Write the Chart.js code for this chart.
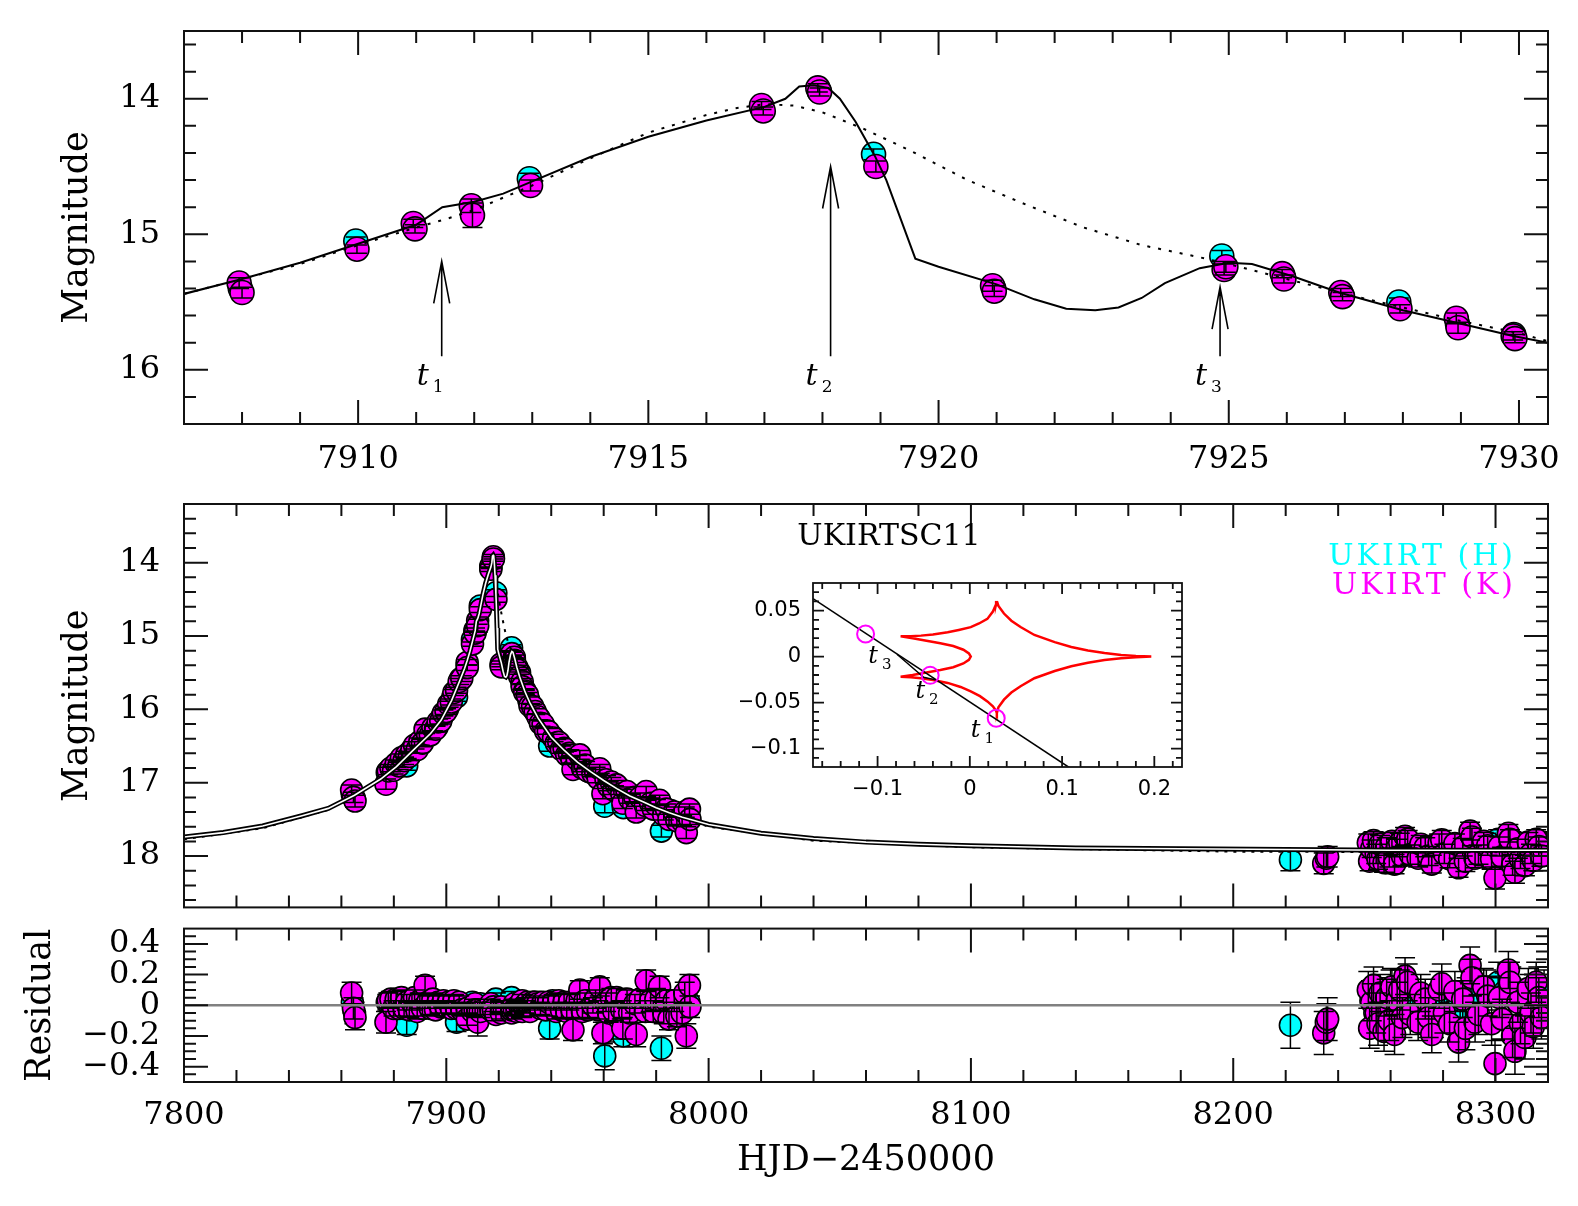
<!DOCTYPE html>
<html><head><meta charset="utf-8">
<script src="https://cdn.jsdelivr.net/npm/chart.js@4.4.1/dist/chart.umd.min.js"></script>
<style>
html,body{margin:0;padding:0;background:#fff;}
#wrap{position:relative;width:1578px;height:1206px;overflow:hidden;background:#fff;}
canvas{position:absolute;}
</style></head><body>
<div id="wrap">
<canvas id="cTop" width="1578" height="480" style="left:0;top:0"></canvas>
<canvas id="cMid" width="1578" height="440" style="left:0;top:480px"></canvas>
<canvas id="cRes" width="1578" height="290" style="left:0;top:916px"></canvas>
<canvas id="cIns" width="460" height="240" style="left:740px;top:560px"></canvas>
</div>
<script>
// ================= DATA =================
// UKIRT H band (cyan)
const hTime = [
7864.2, 7865.0,
7877.5, 7879.5, 7881.5, 7883.5, 7884.9, 7886.5, 7888.5, 7890.5, 7892.5, 7894.5, 7896.5, 7898.5, 7900.5, 7902.5, 7903.9, 7905.5,
7907.97, 7909.96, 7910.96, 7912.95, 7916.96, 7917.94, 7918.88, 7920.95, 7924.88, 7925.94, 7926.95, 7927.93, 7928.94, 7929.91,
7931.5, 7933.5, 7935.5, 7937.5, 7939.4, 7940.5, 7942.5, 7944.5, 7946.5, 7948.5,
7950.5, 7952.5, 7954.5, 7956.5, 7958.5, 7960.4, 7962.5, 7964.5, 7966.5, 7967.5,
7969.5, 7971.5, 7973.5, 7975.5, 7977.5, 7979.5, 7982.0, 7983.5, 7985.5, 7987.5,
7989.5, 7992.5,
8221.8,
8252.5, 8254.0, 8256.5, 8258.0, 8260.0, 8262.0, 8264.0, 8268.5, 8272.5, 8276.5,
8281.5, 8283.5, 8286.5, 8289.0, 8294.1, 8296.5, 8301.0, 8303.5, 8306.0, 8310.0,
8313.0, 8316.3, 8318.5];
const hMag = [
17.16, 17.22,
16.86, 16.83, 16.79, 16.68, 16.77, 16.60, 16.50, 16.47, 16.36, 16.30, 16.24, 16.09, 15.99, 15.83, 15.83, 15.58,
15.40, 15.05, 14.94, 14.59, 14.07, 13.94, 14.41, 15.40, 15.16, 15.31, 15.45, 15.50, 15.66, 15.74,
15.88, 16.01, 16.13, 16.25, 16.50, 16.37, 16.47, 16.52, 16.63, 16.65,
16.74, 16.76, 16.85, 16.86, 16.94, 17.32, 17.00, 17.08, 17.09, 17.34,
17.18, 17.18, 17.25, 17.24, 17.32, 17.31, 17.66, 17.41, 17.38, 17.47,
17.45, 17.47,
18.05,
17.89, 17.97, 17.86, 17.94, 17.82, 18.00, 17.88, 17.91, 17.95, 17.99,
17.91, 17.96, 18.02, 17.87, 17.85, 17.82, 17.77, 17.83, 17.80, 17.88,
17.84, 17.80, 17.82];
const hErr = [
0.07, 0.07,
0.05, 0.05, 0.05, 0.05, 0.06, 0.05, 0.05, 0.05, 0.04, 0.04, 0.04, 0.04, 0.04, 0.04, 0.06, 0.04,
0.04, 0.03, 0.03, 0.04, 0.03, 0.03, 0.04, 0.04, 0.04, 0.03, 0.03, 0.03, 0.04, 0.03,
0.03, 0.04, 0.04, 0.04, 0.07, 0.05, 0.05, 0.05, 0.05, 0.05,
0.05, 0.05, 0.05, 0.06, 0.06, 0.09, 0.06, 0.06, 0.06, 0.07,
0.06, 0.06, 0.07, 0.07, 0.07, 0.07, 0.08, 0.07, 0.07, 0.07,
0.07, 0.07,
0.15,
0.13, 0.13, 0.12, 0.13, 0.13, 0.14, 0.12, 0.13, 0.13, 0.14,
0.12, 0.13, 0.14, 0.13, 0.12, 0.13, 0.13, 0.12, 0.13, 0.13,
0.12, 0.13, 0.13];
const hRes = [
0.02, -0.05,
0.02, -0.01, -0.03, 0.01, -0.13, -0.01, 0.02, -0.02, 0.02, 0.01, -0.02, 0.02, 0.00, 0.01, -0.11, 0.01,
-0.05, 0.02, -0.01, 0.01, 0.01, -0.01, 0.04, -0.02, 0.05, -0.01, -0.02, 0.02, -0.03, -0.01,
-0.01, 0.02, 0.02, 0.01, -0.15, 0.03, 0.00, 0.02, -0.02, 0.02,
-0.01, 0.02, -0.02, 0.02, -0.02, -0.33, 0.02, -0.01, 0.02, -0.20,
-0.01, 0.02, -0.02, 0.03, -0.02, 0.02, -0.28, -0.02, 0.03, -0.03,
0.02, 0.02,
-0.13,
0.03, -0.05, 0.06, -0.02, 0.10, -0.08, 0.04, 0.01, -0.03, -0.07,
0.01, -0.04, -0.10, 0.05, 0.07, 0.10, 0.15, 0.09, 0.12, 0.04,
0.08, 0.12, 0.10];

// UKIRT K band (magenta)
const kTime = [
7863.9, 7864.6, 7865.2,
7877.0, 7877.9, 7878.9, 7879.9, 7880.9, 7881.9, 7882.9, 7883.9, 7884.9, 7885.9,
7886.9, 7887.9, 7888.9, 7889.9, 7890.9, 7891.9, 7892.9, 7893.9, 7894.9, 7895.9,
7896.9, 7897.9, 7898.9, 7899.9, 7900.9, 7901.9, 7902.9, 7903.9, 7904.9, 7905.9,
7907.95, 7908.0, 7909.98, 7910.95, 7910.98, 7911.95, 7911.97, 7912.97, 7916.95, 7916.98,
7917.92, 7917.95, 7918.92, 7920.93, 7920.96, 7924.92, 7924.95, 7925.92, 7925.95, 7926.93,
7926.96, 7927.95, 7928.92, 7928.95, 7929.9, 7929.93,
7930.9, 7931.9, 7932.9, 7933.9, 7934.9, 7935.9, 7936.9, 7937.9, 7938.9, 7940.9,
7941.9, 7942.9, 7943.9, 7944.9, 7945.9, 7946.9, 7947.9, 7948.3, 7949.9, 7950.9,
7951.9, 7952.9, 7953.9, 7955.9, 7956.9, 7957.9, 7958.5, 7959.7, 7960.9, 7961.9,
7962.9, 7963.9, 7964.9, 7966.9, 7967.3, 7968.9, 7969.9, 7971.9, 7972.4, 7973.9,
7975.9, 7976.2, 7977.9, 7978.9, 7979.9, 7981.3, 7982.9, 7983.9, 7984.9, 7986.9,
7987.9, 7989.9, 7990.9, 7991.5, 7992.7, 7992.9,
8234.5, 8235.5, 8236.0,
8251.5, 8252.0, 8252.8, 8253.5, 8254.5, 8255.2, 8256.0, 8257.5, 8258.5, 8259.5,
8260.5, 8261.5, 8262.5, 8263.5, 8264.5, 8265.5, 8266.5, 8267.5, 8270.5, 8271.5,
8273.2, 8274.5, 8275.7, 8278.5, 8279.5, 8280.5, 8282.5, 8284.5, 8285.9, 8287.5,
8288.5, 8290.3, 8291.0, 8292.2, 8293.5, 8295.5, 8297.0, 8298.5, 8299.8, 8301.5,
8302.5, 8304.9, 8305.5, 8306.5, 8307.4, 8308.5, 8309.5, 8311.2, 8312.5, 8313.5,
8314.4, 8315.5, 8316.5, 8317.5];
const kMag = [
17.10, 17.20, 17.25,
17.02, 16.84, 16.80, 16.83, 16.74, 16.77, 16.66, 16.70, 16.62, 16.64,
16.55, 16.49, 16.55, 16.44, 16.46, 16.27, 16.35, 16.35, 16.25, 16.27,
16.17, 16.16, 16.05, 16.03, 15.93, 15.90, 15.77, 15.74, 15.62, 15.58,
15.36, 15.43, 15.11, 14.92, 14.96, 14.79, 14.86, 14.64, 14.05, 14.09,
13.92, 13.95, 14.50, 15.38, 15.42, 15.26, 15.24, 15.29, 15.33, 15.43,
15.46, 15.55, 15.62, 15.69, 15.75, 15.77,
15.80, 15.95, 15.96, 16.03, 16.10, 16.19, 16.20, 16.30, 16.30, 16.39,
16.46, 16.45, 16.55, 16.53, 16.62, 16.60, 16.68, 16.82, 16.68, 16.62,
16.80, 16.76, 16.84, 16.87, 16.85, 16.94, 16.81, 17.15, 16.96, 17.05,
16.99, 17.10, 17.03, 17.15, 17.28, 17.12, 17.22, 17.20, 17.40, 17.20,
17.31, 17.12, 17.28, 17.36, 17.30, 17.24, 17.44, 17.36, 17.50, 17.40,
17.52, 17.52, 17.40, 17.68, 17.36, 17.50,
18.10, 18.03, 18.01,
17.82, 18.07, 17.90, 17.79, 17.97, 18.04, 17.84, 18.09, 17.87, 18.02,
17.80, 18.11, 17.89, 17.82, 18.00, 17.73, 17.77, 17.98, 18.03, 17.84,
17.88, 18.00, 18.11, 17.82, 17.78, 17.97, 18.04, 17.83, 18.16, 17.88,
18.07, 17.66, 17.74, 18.03, 17.98, 17.80, 17.86, 18.04, 18.30, 17.87,
18.01, 17.69, 17.77, 18.12, 18.22, 17.90, 18.04, 18.13, 17.81, 17.97,
18.06, 17.77, 17.87, 18.00];
const kErr = [
0.07, 0.07, 0.08,
0.07, 0.05, 0.05, 0.05, 0.05, 0.05, 0.05, 0.05, 0.05, 0.05,
0.05, 0.05, 0.05, 0.05, 0.05, 0.06, 0.04, 0.04, 0.04, 0.04,
0.04, 0.04, 0.04, 0.04, 0.04, 0.04, 0.04, 0.04, 0.04, 0.04,
0.04, 0.04, 0.03, 0.03, 0.03, 0.05, 0.09, 0.04, 0.03, 0.03,
0.03, 0.03, 0.04, 0.04, 0.04, 0.04, 0.04, 0.03, 0.03, 0.03,
0.03, 0.03, 0.04, 0.04, 0.03, 0.03,
0.03, 0.03, 0.03, 0.04, 0.04, 0.04, 0.04, 0.04, 0.04, 0.05,
0.05, 0.05, 0.05, 0.05, 0.05, 0.05, 0.05, 0.07, 0.05, 0.06,
0.05, 0.05, 0.05, 0.05, 0.06, 0.06, 0.06, 0.07, 0.06, 0.06,
0.06, 0.06, 0.06, 0.06, 0.07, 0.06, 0.06, 0.06, 0.08, 0.06,
0.07, 0.07, 0.07, 0.07, 0.07, 0.07, 0.07, 0.07, 0.07, 0.07,
0.07, 0.07, 0.07, 0.08, 0.07, 0.07,
0.14, 0.12, 0.14,
0.12, 0.13, 0.12, 0.12, 0.13, 0.14, 0.12, 0.13, 0.12, 0.13,
0.12, 0.13, 0.12, 0.13, 0.13, 0.12, 0.12, 0.13, 0.12, 0.12,
0.13, 0.13, 0.12, 0.12, 0.13, 0.13, 0.12, 0.13, 0.13, 0.12,
0.14, 0.12, 0.12, 0.13, 0.13, 0.12, 0.13, 0.14, 0.15, 0.13,
0.13, 0.12, 0.13, 0.14, 0.15, 0.13, 0.13, 0.14, 0.13, 0.13,
0.14, 0.13, 0.13, 0.14];
const kRes = [
0.08, -0.02, -0.08,
-0.11, 0.03, 0.04, -0.02, 0.04, -0.02, 0.05, -0.02, 0.02, -0.03,
0.02, 0.05, -0.04, 0.03, -0.02, 0.13, 0.02, -0.02, 0.04, -0.03,
0.02, -0.01, 0.03, -0.01, 0.02, -0.02, 0.03, -0.02, 0.02, -0.03,
-0.02, -0.09, -0.04, 0.01, -0.03, -0.03, -0.11, -0.04, 0.01, -0.03,
-0.01, -0.03, -0.06, -0.01, -0.05, -0.05, -0.03, 0.01, -0.03, -0.01,
-0.04, 0.00, 0.03, -0.04, 0.00, -0.02,
0.02, -0.04, 0.02, 0.02, 0.01, -0.02, 0.02, -0.03, 0.02, 0.02,
-0.04, 0.03, -0.03, 0.02, -0.04, 0.02, -0.03, -0.16, 0.03, 0.10,
-0.04, 0.03, -0.03, 0.00, 0.04, -0.03, 0.12, -0.18, 0.02, -0.05,
0.05, -0.04, 0.05, -0.03, -0.15, 0.04, -0.05, 0.01, -0.19, 0.04,
-0.04, 0.16, 0.03, -0.04, 0.04, 0.12, -0.05, 0.03, -0.09, 0.03,
-0.07, -0.05, 0.08, -0.20, 0.13, -0.01,
-0.18, -0.11, -0.09,
0.10, -0.15, 0.02, 0.13, -0.05, -0.12, 0.08, -0.17, 0.05, -0.10,
0.12, -0.19, 0.03, 0.10, -0.08, 0.19, 0.15, -0.06, -0.11, 0.08,
0.04, -0.08, -0.19, 0.10, 0.14, -0.05, -0.12, 0.09, -0.24, 0.04,
-0.15, 0.26, 0.18, -0.11, -0.06, 0.12, 0.06, -0.12, -0.38, 0.05,
-0.09, 0.23, 0.15, -0.20, -0.30, 0.02, -0.12, -0.21, 0.11, -0.05,
-0.14, 0.15, 0.05, -0.08];

// best-fit binary-lens model (solid)
const modelTime = [7800, 7815, 7830, 7845, 7855, 7865, 7875, 7881, 7887, 7894, 7898, 7902, 7905, 7907, 7908, 7909, 7910, 7911, 7911.45, 7912, 7912.5, 7913, 7914, 7915, 7916, 7917, 7917.36, 7917.6, 7917.85, 7918.1, 7918.3, 7918.57, 7918.9, 7919.1, 7919.35, 7919.6, 7920, 7921, 7921.65, 7922.2, 7922.7, 7923.1, 7923.5, 7923.9, 7924.5, 7925, 7925.4, 7926.1, 7926.9, 7928, 7929, 7929.9, 7930.5, 7932, 7935, 7940, 7945, 7950, 7955, 7960, 7965, 7970, 7975, 7980, 7985, 7990, 8000, 8020, 8040, 8060, 8080, 8100, 8140, 8180, 8220, 8260, 8320];
const modelMag = [17.74, 17.68, 17.59, 17.45, 17.35, 17.17, 16.95, 16.78, 16.57, 16.33, 16.15, 15.88, 15.62, 15.44, 15.33, 15.21, 15.07, 14.93, 14.80, 14.76, 14.70, 14.61, 14.43, 14.28, 14.16, 14.06, 14.00, 13.91, 13.90, 13.92, 14.00, 14.17, 14.42, 14.60, 14.89, 15.18, 15.24, 15.37, 15.48, 15.55, 15.56, 15.54, 15.47, 15.36, 15.25, 15.21, 15.22, 15.31, 15.43, 15.56, 15.66, 15.75, 15.80, 15.92, 16.12, 16.38, 16.56, 16.72, 16.85, 16.97, 17.08, 17.18, 17.26, 17.34, 17.41, 17.47, 17.57, 17.69, 17.76, 17.81, 17.84, 17.86, 17.89, 17.90, 17.91, 17.92, 17.92];
// alternative model (dotted)
const altTime = [7800, 7830, 7855, 7875, 7894, 7902, 7907, 7909, 7910, 7911, 7911.5, 7912, 7913, 7914, 7915, 7916, 7916.5, 7917, 7917.5, 7918, 7918.7, 7919.5, 7920.5, 7921.5, 7922.5, 7923.5, 7924.5, 7925, 7926, 7927, 7928, 7929, 7930, 7930.5, 7935, 7950, 7980, 8000, 8040, 8100, 8200, 8320];
const altMag = [17.77, 17.62, 17.37, 16.97, 16.34, 15.89, 15.44, 15.22, 15.08, 14.95, 14.89, 14.82, 14.64, 14.44, 14.25, 14.12, 14.07, 14.04, 14.05, 14.10, 14.22, 14.38, 14.60, 14.78, 14.95, 15.08, 15.17, 15.22, 15.33, 15.44, 15.54, 15.64, 15.73, 15.79, 16.14, 16.74, 17.37, 17.60, 17.79, 17.88, 17.94, 17.95];

// caustic-crossing epochs marked in the top panel
const arrowTime = [7911.44, 7918.14, 7924.85];
const arrowTip  = [15.20, 14.50, 15.39];
const arrowBase = [15.90, 15.90, 15.90];
const arrowSub  = ['1', '2', '3'];

// inset: caustic and source trajectory
const causticX = [0.0293, 0.0285, 0.025, 0.019, 0.010, 0.001, -0.012, -0.024, -0.040, -0.053, -0.064, -0.075,
  -0.062, -0.047, -0.032, -0.018, -0.007, -0.001, 0.001, -0.001, -0.007, -0.018, -0.032, -0.047, -0.062, -0.075,
  -0.064, -0.053, -0.040, -0.024, -0.010, 0.001, 0.011, 0.019, 0.025, 0.0285, 0.0293,
  0.031, 0.037, 0.045, 0.055, 0.070, 0.092, 0.110, 0.128, 0.146, 0.164, 0.180, 0.1967,
  0.180, 0.164, 0.146, 0.128, 0.110, 0.092, 0.070, 0.055, 0.045, 0.037, 0.031, 0.0293];
const causticY = [0.0604, 0.057, 0.049, 0.041, 0.036, 0.032, 0.029, 0.0264, 0.024, 0.0228, 0.0222, 0.022,
  0.020, 0.0173, 0.0145, 0.0115, 0.0075, 0.0035, 0.000, -0.0035, -0.0075, -0.0115, -0.0145, -0.0173, -0.020, -0.022,
  -0.0225, -0.0235, -0.0255, -0.0286, -0.033, -0.0377, -0.043, -0.0487, -0.054, -0.059, -0.0615,
  -0.055, -0.0468, -0.039, -0.0322, -0.0235, -0.0157, -0.0105, -0.0066, -0.0038, -0.0018, -0.0006, 0.000,
  0.0006, 0.0018, 0.0038, 0.0066, 0.0105, 0.0157, 0.0235, 0.0322, 0.039, 0.0468, 0.055, 0.0604];
const trajX = [-0.17, 0.11];
const trajY = [0.063, -0.122];
const traj2X = [-0.079, -0.050, -0.036];
const traj2Y = [0.0025, -0.0225, -0.0256];
const markX = [0.0286, -0.043, -0.113];
const markY = [-0.067, -0.0204, 0.0246];
const markLabelX = [0.001, -0.059, -0.110];
const markLabelY = [-0.087, -0.045, -0.007];
const markSub = ['1', '2', '3'];

// axis ticks (labelled majors)
const topXTicks = [7910, 7915, 7920, 7925, 7930];
const topYTicks = [14, 15, 16];
const midYTicks = [14, 15, 16, 17, 18];
const resXTicks = [7800, 7900, 8000, 8100, 8200, 8300];
const resYTicks = [0.4, 0.2, 0, -0.2, -0.4];
const insXTicks = [-0.1, 0, 0.1, 0.2];
const insYTicks = [0.05, 0, -0.05, -0.1];

// ================= DRAWING =================
const CYAN = '#00ffff', MAGENTA = '#ff00ff';
const SERIF = '"DejaVu Serif", "Liberation Serif", serif';
const SANS = '"DejaVu Sans", "Liberation Sans", sans-serif';
Chart.defaults.font.family = SERIF;
Chart.defaults.color = '#000';

const pts = (t, v) => t.map((x, i) => ({x: x, y: v[i]}));
function stepsBetween(min, max, step) {
  const out = [];
  const k0 = Math.ceil(min / step - 1e-6), k1 = Math.floor(max / step + 1e-6);
  for (let k = k0; k <= k1; k++) out.push(+(k * step).toFixed(6));
  return out;
}
function fmt(v) { return String(+(+v).toFixed(6)).replace('-', '\u2212'); }
function noPad(sc) { sc.paddingTop = 0; sc.paddingBottom = 0; sc.paddingLeft = 0; sc.paddingRight = 0; }

function frame(c) {
  return { id: 'frame', afterDatasetsDraw(chart) {
    const {ctx, chartArea: a} = chart; const x = chart.scales.x, y = chart.scales.y;
    const isMaj = (v, list, st) => list.some(m => Math.abs(m - v) < st * 1e-3);
    ctx.save(); ctx.strokeStyle = '#111'; ctx.lineWidth = c.lw; ctx.beginPath();
    stepsBetween(x.min, x.max, c.xMinor).forEach(v => {
      const p = x.getPixelForValue(v); if (p <= a.left + 1 || p >= a.right - 1) return;
      const L = isMaj(v, c.xMajor, c.xMinor) ? c.maj : c.min;
      ctx.moveTo(p, a.bottom); ctx.lineTo(p, a.bottom - L);
      ctx.moveTo(p, a.top); ctx.lineTo(p, a.top + L);
    });
    stepsBetween(y.min, y.max, c.yMinor).forEach(v => {
      const p = y.getPixelForValue(v); if (p <= a.top + 1 || p >= a.bottom - 1) return;
      const L = isMaj(v, c.yMajor, c.yMinor) ? c.maj : c.min;
      ctx.moveTo(a.left, p); ctx.lineTo(a.left + L, p);
      ctx.moveTo(a.right, p); ctx.lineTo(a.right - L, p);
    });
    ctx.stroke();
    ctx.strokeRect(a.left, a.top, a.right - a.left, a.bottom - a.top);
    ctx.restore();
  }};
}
const errBars = { id: 'errBars', afterDatasetDraw(chart, args) {
  const ds = chart.data.datasets[args.index]; if (!ds.errors) return;
  const {ctx, chartArea: a} = chart; const x = chart.scales.x, y = chart.scales.y;
  ctx.save(); ctx.beginPath(); ctx.rect(a.left, a.top, a.right - a.left, a.bottom - a.top); ctx.clip();
  ctx.strokeStyle = '#000'; ctx.lineWidth = 1.5; ctx.beginPath();
  const c = ds.cap || 10;
  ds.data.forEach((p, i) => {
    const e = ds.errors[i]; const px = x.getPixelForValue(p.x);
    const y1 = y.getPixelForValue(p.y - e), y2 = y.getPixelForValue(p.y + e);
    ctx.moveTo(px, y1); ctx.lineTo(px, y2);
    ctx.moveTo(px - c, y1); ctx.lineTo(px + c, y1);
    ctx.moveTo(px - c, y2); ctx.lineTo(px + c, y2);
  });
  ctx.stroke(); ctx.restore();
}};
function tLabel(ctx, x, y, sub, big, small) {
  ctx.fillStyle = '#000'; ctx.textAlign = 'left'; ctx.textBaseline = 'alphabetic';
  ctx.font = 'italic ' + big + 'px ' + SERIF; ctx.fillText('t', x, y);
  const w = ctx.measureText('t').width;
  ctx.font = small + 'px ' + SERIF; ctx.fillText(sub, x + w + 4, y + Math.round(small * 0.4));
}
function axisX(o) {
  const s = { type: 'linear', min: o.min, max: o.max,
    grid: { display: false, drawTicks: false }, border: { display: false },
    afterBuildTicks: sc => { sc.ticks = o.ticks.map(v => ({ value: v })); },
    ticks: { display: o.labels, autoSkip: false, maxRotation: 0, minRotation: 0, padding: o.pad || 0,
      font: { family: o.family || SERIF, size: o.size || 32 }, color: '#000', callback: v => fmt(v) },
    afterFit: sc => { sc.height = o.h; noPad(sc); } };
  if (o.title) s.title = { display: true, text: o.title, color: '#000', font: { family: SERIF, size: 35 }, padding: { top: 0, bottom: o.titlePad } };
  return s;
}
function axisY(o) {
  const s = { type: 'linear', min: o.min, max: o.max, reverse: !!o.reverse,
    grid: { display: false, drawTicks: false }, border: { display: false },
    afterBuildTicks: sc => { sc.ticks = o.ticks.map(v => ({ value: v })); },
    ticks: { autoSkip: false, padding: o.pad, font: { family: o.family || SERIF, size: o.size || 32 }, color: '#000', callback: v => fmt(v) },
    afterFit: sc => { sc.width = o.w; noPad(sc); } };
  if (o.title) s.title = { display: true, text: o.title, color: '#000', font: { family: SERIF, size: 35 }, padding: { top: o.titlePad, bottom: 0 } };
  return s;
}
const baseOpts = (scales, pad) => ({
  responsive: false, maintainAspectRatio: false, animation: false, devicePixelRatio: 1, events: [],
  layout: { padding: pad },
  plugins: { legend: { display: false }, tooltip: { enabled: false }, title: { display: false } },
  scales: scales
});
const pointSet = (t, v, e, color, r, order) => ({ data: pts(t, v), errors: e, showLine: false,
  pointRadius: r, pointBackgroundColor: color, pointBorderColor: '#000', pointBorderWidth: 1.6, order: order, clip: 0, cap: 10 });
const lineSet = (t, v, color, w, dash, order) => ({ data: pts(t, v), showLine: true, pointRadius: 0,
  borderColor: color, borderWidth: w, borderDash: dash || [], order: order, clip: 0, fill: false, tension: 0 });

// ---------- top panel ----------
new Chart(document.getElementById('cTop'), {
  type: 'scatter',
  data: { datasets: [
    lineSet(modelTime, modelMag, '#000', 2, null, 0),
    lineSet(altTime, altMag, '#000', 2, [3, 8], 1),
    pointSet(kTime, kMag, kErr, MAGENTA, 12, 2),
    pointSet(hTime, hMag, hErr, CYAN, 12, 3)
  ]},
  options: baseOpts({
    x: axisX({ min: 7907, max: 7930.5, ticks: topXTicks, labels: true, pad: 16, h: 56 }),
    y: axisY({ min: 13.5, max: 16.4, reverse: true, ticks: topYTicks, pad: 24, w: 184, title: 'Magnitude', titlePad: 57 })
  }, { left: 0, right: 30, top: 31, bottom: 0 }),
  plugins: [errBars, frame({ xMajor: topXTicks, xMinor: 1, yMajor: topYTicks, yMinor: 0.2, maj: 24, min: 12, lw: 2 }),
    { id: 'arrows', afterDatasetsDraw(chart) {
      const {ctx} = chart; const x = chart.scales.x, y = chart.scales.y;
      ctx.save(); ctx.strokeStyle = '#000'; ctx.lineWidth = 1.6;
      arrowTime.forEach((t, i) => {
        const px = x.getPixelForValue(t), tip = y.getPixelForValue(arrowTip[i]), base = y.getPixelForValue(arrowBase[i]);
        ctx.beginPath(); ctx.moveTo(px, base); ctx.lineTo(px, tip);
        ctx.moveTo(px - 8, tip + 42); ctx.lineTo(px, tip); ctx.lineTo(px + 8, tip + 42); ctx.stroke();
        tLabel(ctx, px - 25, base + 29, arrowSub[i], 30, 17);
      });
      ctx.restore();
    }}]
});

// ---------- middle panel ----------
new Chart(document.getElementById('cMid'), {
  type: 'scatter',
  data: { datasets: [
    lineSet(modelTime, modelMag, '#ffffff', 1.6, null, 0),
    lineSet(modelTime, modelMag, '#000', 5, null, 1),
    lineSet(altTime, altMag, '#000', 2, [3, 6], 2),
    pointSet(kTime, kMag, kErr, MAGENTA, 11, 3),
    pointSet(hTime, hMag, hErr, CYAN, 11, 4)
  ]},
  options: baseOpts({
    x: axisX({ min: 7800, max: 8320, ticks: resXTicks, labels: false, h: 7 }),
    y: axisY({ min: 13.2, max: 18.7, reverse: true, ticks: midYTicks, pad: 24, w: 184, title: 'Magnitude', titlePad: 57 })
  }, { left: 0, right: 30, top: 24, bottom: 0 }),
  plugins: [errBars, frame({ xMajor: resXTicks, xMinor: 20, yMajor: midYTicks, yMinor: 0.2, maj: 24, min: 12, lw: 2 }),
    { id: 'midText', afterDatasetsDraw(chart) {
      const {ctx, chartArea: a} = chart;
      ctx.save(); ctx.textBaseline = 'alphabetic';
      ctx.font = '30px ' + SERIF; ctx.fillStyle = '#000'; ctx.textAlign = 'center';
      ctx.fillText('UKIRTSC11', a.left + 705, a.top + 41);
      try { ctx.letterSpacing = '3px'; } catch (e) {}
      ctx.textAlign = 'right';
      ctx.fillStyle = CYAN; ctx.fillText('UKIRT (H)', a.right - 32, a.top + 61);
      ctx.fillStyle = MAGENTA; ctx.fillText('UKIRT (K)', a.right - 32, a.top + 90);
      ctx.restore();
    }}]
});

// ---------- residual panel ----------
new Chart(document.getElementById('cRes'), {
  type: 'scatter',
  data: { datasets: [
    lineSet([7800, 8320], [0, 0], '#808080', 2.5, null, 0),
    pointSet(kTime, kRes, kErr, MAGENTA, 11, 1),
    pointSet(hTime, hRes, hErr, CYAN, 11, 2)
  ]},
  options: baseOpts({
    x: axisX({ min: 7800, max: 8320, ticks: resXTicks, labels: true, pad: 14, h: 124, title: 'HJD\u22122450000', titlePad: 24 }),
    y: axisY({ min: -0.5, max: 0.5, ticks: resYTicks, pad: 24, w: 184, title: 'Residual', titlePad: 20 })
  }, { left: 0, right: 30, top: 7, bottom: 0 }),
  plugins: [errBars, frame({ xMajor: resXTicks, xMinor: 20, yMajor: resYTicks, yMinor: 0.05, maj: 24, min: 12, lw: 2 })]
});

// ---------- inset ----------
new Chart(document.getElementById('cIns'), {
  type: 'scatter',
  data: { datasets: [
    { data: pts(markX, markY), showLine: false, pointRadius: 8.5, pointBackgroundColor: 'rgba(0,0,0,0)',
      pointBorderColor: MAGENTA, pointBorderWidth: 2, order: 0, clip: 0 },
    lineSet(trajX, trajY, '#000', 1.6, null, 1),
    lineSet(traj2X, traj2Y, '#000', 1.4, null, 2),
    lineSet(causticX, causticY, '#ff0000', 2.5, null, 3)
  ]},
  options: baseOpts({
    x: axisX({ min: -0.17, max: 0.23, ticks: insXTicks, labels: true, pad: 10, h: 33, family: SANS, size: 21 }),
    y: axisY({ min: -0.12, max: 0.08, ticks: insYTicks, pad: 12, w: 73, family: SANS, size: 21 })
  }, { left: 0, right: 18, top: 23, bottom: 0 }),
  plugins: [frame({ xMajor: insXTicks, xMinor: 0.02, yMajor: insYTicks, yMinor: 0.01, maj: 11, min: 6, lw: 1.8 }),
    { id: 'insText', afterDatasetsDraw(chart) {
      const {ctx} = chart; const x = chart.scales.x, y = chart.scales.y;
      ctx.save();
      markLabelX.forEach((lx, i) => tLabel(ctx, x.getPixelForValue(lx), y.getPixelForValue(markLabelY[i]), markSub[i], 24, 15));
      ctx.restore();
    }}]
});
</script>
</body></html>
